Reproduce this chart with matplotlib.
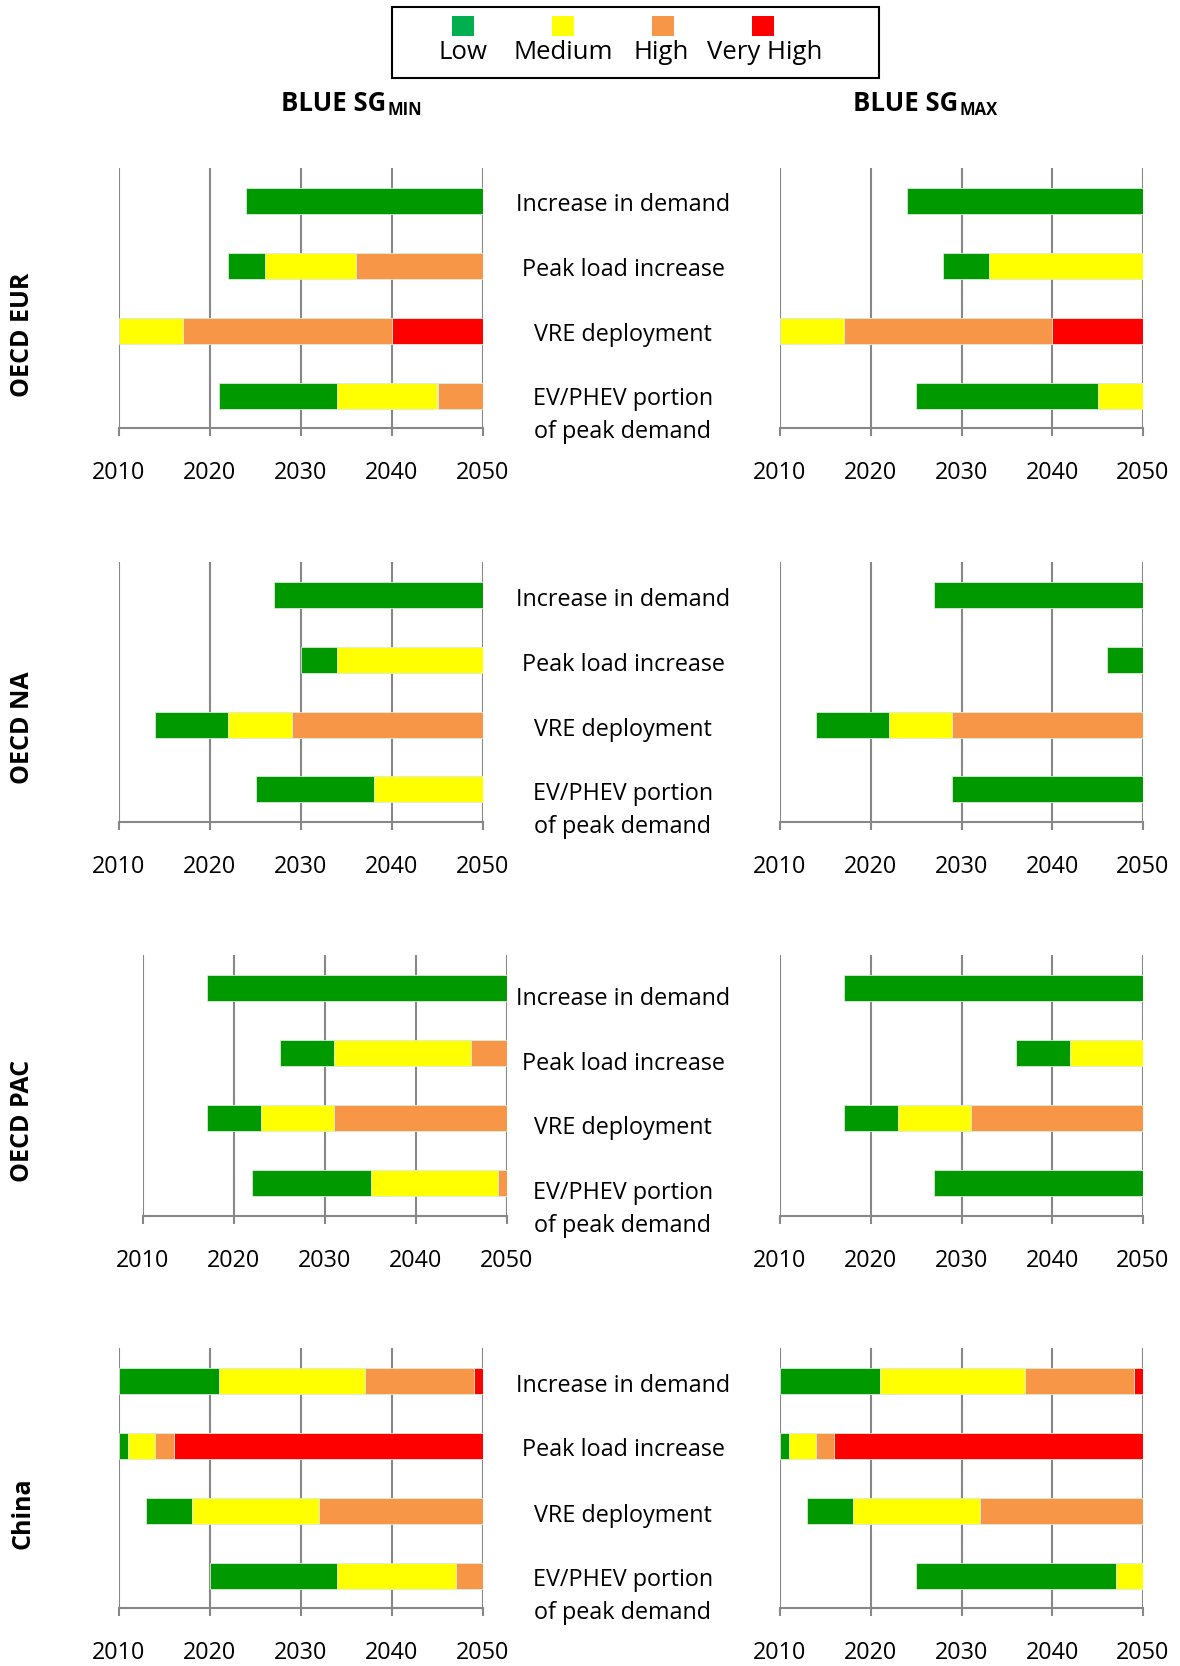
import matplotlib
matplotlib.use("Agg")
import matplotlib.pyplot as plt
from matplotlib.patches import Rectangle

plt.rcParams["font.family"] = ["Open Sans", "DejaVu Sans"]

W, H = 1180, 1666

LEVELS = ["Low", "Medium", "High", "Very High"]
BAR_COLORS = ["#009900", "#FFFF00", "#F79646", "#FF0000"]
LEGEND_COLORS = ["#00B050", "#FFFF00", "#F79646", "#FF0000"]
CATEGORIES = ["Increase in demand", "Peak load increase", "VRE deployment",
              "EV/PHEV portion\nof peak demand"]
REGIONS = ["OECD EUR", "OECD NA", "OECD PAC", "China"]
YEARS = [2010, 2020, 2030, 2040, 2050]
END_YEAR = 2050

# year each level starts (Low, Medium, High, Very High); None = level absent
EUR_MIN = [[2024, None, None, None],
           [2022, 2026, 2036, None],
           [None, 2010, 2017, 2040],
           [2021, 2034, 2045, None]]
EUR_MAX = [[2024, None, None, None],
           [2028, 2033, None, None],
           [None, 2010, 2017, 2040],
           [2025, 2045, None, None]]
NA_MIN = [[2027, None, None, None],
          [2030, 2034, None, None],
          [2014, 2022, 2029, None],
          [2025, 2038, None, None]]
NA_MAX = [[2027, None, None, None],
          [2046, None, None, None],
          [2014, 2022, 2029, None],
          [2029, None, None, None]]
PAC_MIN = [[2017, None, None, None],
           [2025, 2031, 2046, None],
           [2017, 2023, 2031, None],
           [2022, 2035, 2049, None]]
PAC_MAX = [[2017, None, None, None],
           [2036, 2042, None, None],
           [2017, 2023, 2031, None],
           [2027, None, None, None]]
CHINA_MIN = [[2010, 2021, 2037, 2049],
             [2010, 2011, 2014, 2016],
             [2013, 2018, 2032, None],
             [2020, 2034, 2047, None]]
CHINA_MAX = [[2010, 2021, 2037, 2049],
             [2010, 2011, 2014, 2016],
             [2013, 2018, 2032, None],
             [2025, 2047, None, None]]

PANELS_MIN = [EUR_MIN, NA_MIN, PAC_MIN, CHINA_MIN]
PANELS_MAX = [EUR_MAX, NA_MAX, PAC_MAX, CHINA_MAX]

# layout in pixels
ROW_Y = [(168, 428), (562, 822), (955, 1216), (1348, 1608)]
LEFT_X = [(119, 483), (119, 483), (143, 507), (119, 483)]
RIGHT_X = (780, 1143)
LABEL_DY = [4, 5, 11, 5]
ROW_LABEL_Y = [335, 728, 1121, 1513]
GRID = "#878787"

fig = plt.figure(figsize=(W / 100, H / 100), dpi=100)
fig.patch.set_facecolor("white")

ov = fig.add_axes([0, 0, 1, 1])
ov.set_xlim(0, W)
ov.set_ylim(H, 0)
ov.axis("off")


def add_panel(xr, yr):
    ax = fig.add_axes([xr[0] / W, 1 - yr[1] / H, (xr[1] - xr[0]) / W,
                       (yr[1] - yr[0]) / H])
    return ax


def draw_panel(ax, data):
    for i, starts in enumerate(data):
        present = [(lv, s) for lv, s in enumerate(starts) if s is not None]
        for k, (lv, s) in enumerate(present):
            e = present[k + 1][1] if k + 1 < len(present) else END_YEAR
            ax.barh(i, e - s, left=s, height=0.4, color=BAR_COLORS[lv],
                    edgecolor="#d8ecd8", linewidth=0.6, zorder=3)
    ax.set_xlim(2010, 2050)
    ax.set_ylim(3.5, -0.5)
    ax.set_xticks(YEARS)
    ax.set_yticks([])
    for x in YEARS:
        ax.axvline(x, color=GRID, lw=1.5, zorder=1)
    for s in ["top", "right", "left"]:
        ax.spines[s].set_visible(False)
    ax.spines["bottom"].set_color(GRID)
    ax.spines["bottom"].set_linewidth(1.5)
    ax.tick_params(axis="x", direction="out", length=6, width=1.5,
                   color=GRID, labelsize=16.8, pad=18)
    ax.patch.set_alpha(0)


for r in range(4):
    axl = add_panel(LEFT_X[r], ROW_Y[r])
    draw_panel(axl, PANELS_MIN[r])
    axr = add_panel(RIGHT_X, ROW_Y[r])
    draw_panel(axr, PANELS_MAX[r])

    top = ROW_Y[r][0]
    for i, cat in enumerate(CATEGORIES):
        y = top + 32.5 + 65 * i + LABEL_DY[r]
        if "\n" in cat:
            y += 16
        ov.text(623, y, cat, ha="center", va="center", fontsize=16.8,
                linespacing=1.45)
    ov.text(23, ROW_LABEL_Y[r], REGIONS[r], rotation=90, ha="center",
            va="center", fontsize=18, fontweight="bold")

# column headers
for cx, sub in [(334, "MIN"), (906, "MAX")]:
    t = ov.text(cx, 103, "BLUE SG", ha="center", va="center", fontsize=18.5,
                fontweight="bold")
    ov.annotate(sub, xy=(1, 0), xycoords=t, xytext=(0.5, -2),
                textcoords="offset points", ha="left", va="bottom",
                fontsize=12, fontweight="bold")

# legend
ov.add_patch(Rectangle((392, 7), 487, 71, facecolor="white",
                       edgecolor="black", lw=1.5))
for lv, cx in zip(range(4), [463, 563, 663, 763]):
    ov.add_patch(Rectangle((cx - 11, 16), 22, 20,
                           facecolor=LEGEND_COLORS[lv], edgecolor="none"))
for lv, cx in zip(range(4), [463, 563, 661, 765]):
    ov.text(cx, 52, LEVELS[lv], ha="center", va="center", fontsize=18.5)

fig.savefig("out.png", dpi=100, facecolor="white")
